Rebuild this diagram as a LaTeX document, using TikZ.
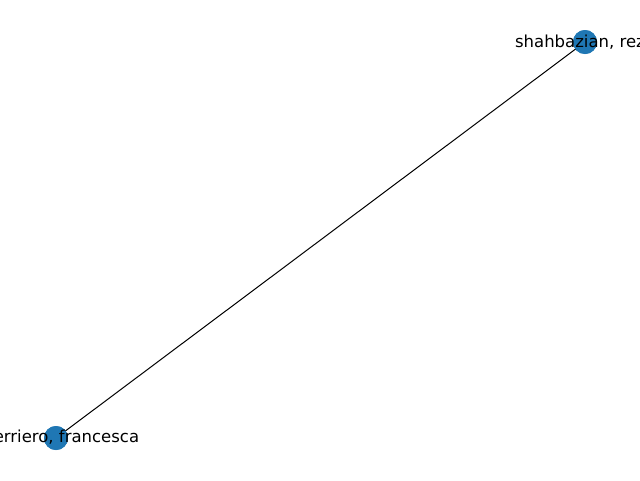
\documentclass[tikz,border=0pt]{standalone}
\usepackage{fontspec}
\setmainfont{DejaVu Sans}
\begin{document}
\begin{tikzpicture}[x=1pt,y=-1pt,
  vertex/.style={circle,fill={rgb,255:red,31;green,119;blue,180},inner sep=0pt,minimum size=24pt},
  lbl/.style={font=\fontsize{16.5pt}{19pt}\selectfont,inner sep=0pt,text=black},
  edge/.style={draw=black,line width=1pt}]
\useasboundingbox (0,0) rectangle (640,480);
\clip (0,0) rectangle (640,480);
\fill[white] (0,0) rectangle (640,480);
\node[vertex] (g) at (56,438) {};
\node[vertex] (s) at (585,42) {};
\draw[edge] (g.center) -- (s.center);
\node[vertex] at (g.center) {};
\node[vertex] at (s.center) {};
\node[lbl] (gl) at (g.center) {guerriero, francesca};
\node[lbl] (sl) at (s.center) {shahbazian, reza};
\end{tikzpicture}
\end{document}
